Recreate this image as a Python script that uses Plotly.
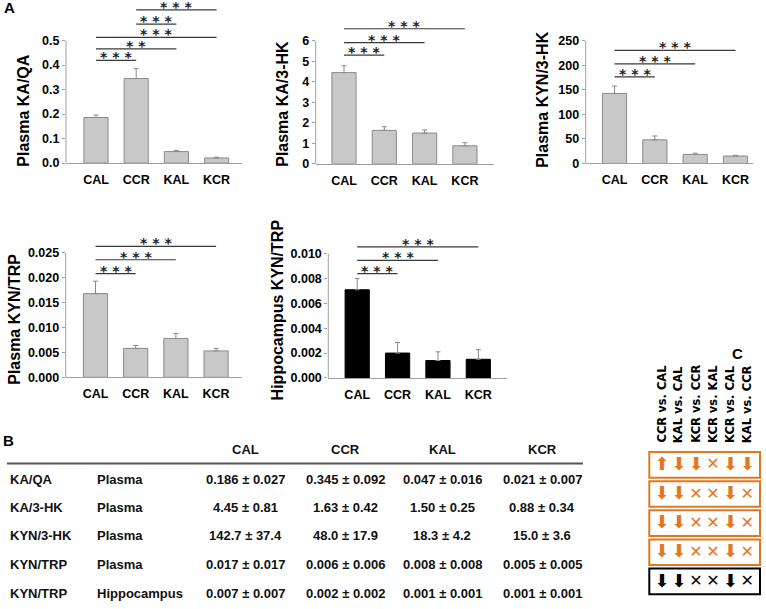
import plotly.graph_objects as go

W, H = 766, 609

# ---------------- data ----------------
groups = ["CAL", "CCR", "KAL", "KCR"]

ka_qa_mean = [0.186, 0.345, 0.047, 0.021]
ka_qa_sem = [0.010, 0.040, 0.005, 0.003]
ka_3hk_mean = [4.45, 1.63, 1.50, 0.88]
ka_3hk_sem = [0.33, 0.18, 0.15, 0.15]
kyn_3hk_mean = [142.7, 48.0, 18.3, 15.0]
kyn_3hk_sem = [15.0, 8.0, 2.5, 1.5]
kyn_trp_plasma_mean = [0.0168, 0.0058, 0.0078, 0.0053]
kyn_trp_plasma_sem = [0.0025, 0.0006, 0.0010, 0.0005]
kyn_trp_hippo_mean = [0.0071, 0.0020, 0.0014, 0.0015]
kyn_trp_hippo_sem = [0.0009, 0.00085, 0.0007, 0.00077]

# significance brackets: (group a, group b, label, height in data units)
sig_ka_qa = [("CAL", "CCR", "***", 0.419), ("CAL", "KAL", "**", 0.466),
             ("CAL", "KCR", "***", 0.513), ("CCR", "KAL", "***", 0.567),
             ("CCR", "KCR", "***", 0.625)]
sig_ka_3hk = [("CAL", "CCR", "***", 5.3), ("CAL", "KAL", "***", 5.91),
              ("CAL", "KCR", "***", 6.59)]
sig_kyn_3hk = [("CAL", "CCR", "***", 176.6), ("CAL", "KAL", "***", 202.8),
               ("CAL", "KCR", "***", 230.4)]
sig_kyn_trp_plasma = [("CAL", "CCR", "***", 0.0208), ("CAL", "KAL", "***", 0.0236),
                      ("CAL", "KCR", "***", 0.0263)]
sig_kyn_trp_hippo = [("CAL", "CCR", "***", 0.0084), ("CAL", "KAL", "***", 0.00947),
                     ("CAL", "KCR", "***", 0.01056)]

# table B
table_ratio = ["KA/QA", "KA/3-HK", "KYN/3-HK", "KYN/TRP", "KYN/TRP"]
table_tissue = ["Plasma", "Plasma", "Plasma", "Plasma", "Hippocampus"]
table_cal = ["0.186 ± 0.027", "4.45 ± 0.81", "142.7 ± 37.4", "0.017 ± 0.017", "0.007 ± 0.007"]
table_ccr = ["0.345 ± 0.092", "1.63 ± 0.42", "48.0 ± 17.9", "0.006 ± 0.006", "0.002 ± 0.002"]
table_kal = ["0.047 ± 0.016", "1.50 ± 0.25", "18.3 ± 4.2", "0.008 ± 0.008", "0.001 ± 0.001"]
table_kcr = ["0.021 ± 0.007", "0.88 ± 0.34", "15.0 ± 3.6", "0.005 ± 0.005", "0.001 ± 0.001"]

# panel C
c_comparisons = ["CCR vs. CAL", "KAL vs. CAL", "KCR vs. CCR", "KCR vs. KAL", "KCR vs. CAL", "KAL vs. CCR"]
c_rows = [
    ["up", "down", "down", "ns", "down", "down"],
    ["down", "down", "ns", "ns", "down", "ns"],
    ["down", "down", "ns", "ns", "down", "ns"],
    ["down", "down", "ns", "ns", "down", "ns"],
    ["down", "down", "ns", "ns", "down", "ns"],
]
c_row_tissue = ["Plasma", "Plasma", "Plasma", "Plasma", "Hippocampus"]

# ---------------- styling ----------------
FONT = "Liberation Sans, Arial, sans-serif"
ORANGE = "#E1781F"
AXIS_C = "#a0a0a0"
BAR_FILL = "#c8c8c8"
BAR_LINE = "#8a8a8a"
SIG_C = "#3a3a3a"


def px(xp):
    return xp / W


def py(yp):
    return 1 - yp / H


fig = go.Figure()
layout = dict(width=W, height=H, margin=dict(l=0, r=0, t=0, b=0),
              paper_bgcolor="white", plot_bgcolor="white", showlegend=False,
              font=dict(family=FONT, color="black"))
shapes = []
annotations = []

panels = [
    dict(mean=ka_qa_mean, sem=ka_qa_sem, sig=sig_ka_qa, fill=BAR_FILL, line=BAR_LINE,
         ticks=[0, 0.1, 0.2, 0.3, 0.4, 0.5], fmt=".1f", title="Plasma KA/QA",
         ax0=66, c0=96, sp=40.2, ax1=242, y0=165, scale=248.0, top=1,
         tx=24, ty=112),
    dict(mean=ka_3hk_mean, sem=ka_3hk_sem, sig=sig_ka_3hk, fill=BAR_FILL, line=BAR_LINE,
         ticks=[0, 1, 2, 3, 4, 5, 6], fmt="d", title="Plasma KA/3-HK",
         ax0=315.7, c0=344, sp=40.3, ax1=494, y0=165.7, scale=20.73, top=5,
         tx=283, ty=105),
    dict(mean=kyn_3hk_mean, sem=kyn_3hk_sem, sig=sig_kyn_3hk, fill=BAR_FILL, line=BAR_LINE,
         ticks=[0, 50, 100, 150, 200, 250], fmt="d", title="Plasma KYN/3-HK",
         ax0=585.7, c0=614.5, sp=40.33, ax1=753, y0=165.3, scale=0.496, top=25,
         tx=543, ty=101),
    dict(mean=kyn_trp_plasma_mean, sem=kyn_trp_plasma_sem, sig=sig_kyn_trp_plasma,
         fill=BAR_FILL, line=BAR_LINE,
         ticks=[0, 0.005, 0.010, 0.015, 0.020, 0.025], fmt=".3f", title="Plasma KYN/TRP",
         ax0=65.7, c0=95.5, sp=40.2, ax1=242, y0=381.7, scale=5040.0, top=232,
         tx=14.5, ty=323),
    dict(mean=kyn_trp_hippo_mean, sem=kyn_trp_hippo_sem, sig=sig_kyn_trp_hippo,
         fill="black", line="black",
         ticks=[0, 0.002, 0.004, 0.006, 0.008, 0.010], fmt=".3f", title="Hippocampus KYN/TRP",
         ax0=328.3, c0=357.2, sp=40.37, ax1=506.7, y0=382.3, scale=12560.0, top=232,
         tx=277, ty=314),
]

for i, p in enumerate(panels, start=1):
    xa = "x" if i == 1 else f"x{i}"
    ya = "y" if i == 1 else f"y{i}"
    fig.add_trace(go.Bar(
        x=groups, y=p["mean"], xaxis=xa, yaxis=ya, width=0.6,
        marker=dict(color=p["fill"], line=dict(color=p["line"], width=1)),
        error_y=dict(type="data", array=p["sem"], arrayminus=[0] * len(p["sem"]),
                     symmetric=False, color="#8a8a8a", thickness=1, width=2.5),
        hoverinfo="skip"))
    xr = [(p["ax0"] - p["c0"]) / p["sp"], (p["ax1"] - p["c0"]) / p["sp"]]
    ytop = (p["y0"] - p["top"]) / p["scale"]
    xkey = "xaxis" if i == 1 else f"xaxis{i}"
    ykey = "yaxis" if i == 1 else f"yaxis{i}"
    layout[xkey] = dict(domain=[px(p["ax0"]), px(p["ax1"])], anchor=ya, range=xr,
                        type="category", categoryorder="array", categoryarray=groups,
                        showline=True, linecolor=AXIS_C, linewidth=1, ticks="",
                        ticklabelstandoff=5,
                        showgrid=False, zeroline=False, fixedrange=True,
                        tickfont=dict(family=FONT, size=12.5, color="black", weight="bold"))
    layout[ykey] = dict(domain=[py(p["y0"]), py(p["top"])], anchor=xa, range=[0, ytop],
                        showline=False, showgrid=False, zeroline=False,
                        tickmode="array", tickvals=p["ticks"],
                        ticktext=[format(t, p["fmt"]) if p["fmt"] != "d" else str(int(t)) for t in p["ticks"]],
                        ticks="outside", ticklen=3, tickcolor=AXIS_C, tickwidth=1,
                        fixedrange=True,
                        tickfont=dict(family=FONT, size=12.5, color="black", weight="bold"))
    shapes.append(dict(type="line", xref="paper", yref="paper",
                       x0=px(p["ax0"]), x1=px(p["ax0"]),
                       y0=py(p["y0"]), y1=py(p["y0"] - p["ticks"][-1] * p["scale"]),
                       line=dict(color=AXIS_C, width=1)))
    for a, b, lab, lev in p["sig"]:
        ia, ib = groups.index(a), groups.index(b)
        shapes.append(dict(type="line", xref=xa, yref=ya, x0=ia, x1=ib, y0=lev, y1=lev,
                           line=dict(color=SIG_C, width=1.2)))
        annotations.append(dict(xref=xa, yref=ya, x=(ia + ib) / 2, y=lev,
                                text=" ".join(lab), showarrow=False, yanchor="bottom",
                                yshift=-7,
                                font=dict(family="DejaVu Sans", size=14, color="#222", weight="bold")))
    annotations.append(dict(xref="paper", yref="paper", x=px(p["tx"]), y=py(p["ty"]),
                            text=p["title"], textangle=-90, showarrow=False,
                            xanchor="center", yanchor="middle",
                            font=dict(family=FONT, size=16, color="black", weight="bold")))

for lab, xx, yy in [("A", 2, 8), ("B", 1, 446)]:
    annotations.append(dict(xref="paper", yref="paper", x=px(xx), y=py(yy), text=lab,
                            showarrow=False, xanchor="left", yanchor="middle",
                            font=dict(family=FONT, size=15, color="black", weight="bold")))
annotations.append(dict(xref="paper", yref="paper", x=px(737), y=py(358), text="C",
                        showarrow=False, xanchor="center", yanchor="middle",
                        font=dict(family=FONT, size=15, color="black", weight="bold")))

# ---------------- table B ----------------
tfont = dict(family=FONT, size=13, color="#111", weight="bold")
col_x = [245, 345, 442, 542]
header_y = 455
row_y = [485, 513.3, 541.7, 571, 600]
for g, cx in zip(groups, col_x):
    annotations.append(dict(xref="paper", yref="paper", x=px(cx), y=py(header_y), text=g,
                            showarrow=False, xanchor="center", yanchor="middle", font=tfont))
shapes.append(dict(type="line", xref="paper", yref="paper", x0=px(7), x1=px(583),
                   y0=py(469), y1=py(469), line=dict(color="#555", width=2)))
for r in range(len(table_ratio)):
    yy = py(row_y[r])
    annotations.append(dict(xref="paper", yref="paper", x=px(8), y=yy, text=table_ratio[r],
                            showarrow=False, xanchor="left", yanchor="middle", font=tfont))
    annotations.append(dict(xref="paper", yref="paper", x=px(95), y=yy, text=table_tissue[r],
                            showarrow=False, xanchor="left", yanchor="middle", font=tfont))
    for col, cx in zip([table_cal, table_ccr, table_kal, table_kcr], col_x):
        annotations.append(dict(xref="paper", yref="paper", x=px(cx), y=yy, text=col[r],
                                showarrow=False, xanchor="center", yanchor="middle", font=tfont))

# ---------------- panel C ----------------
c_x0, c_sp = 661.7, 17.12
r_y0, r_sp = 470.8, 29.5
glyph = {"up": "⬆", "down": "⬇", "ns": "✕"}
xs, ys, txt, cols, sizes = [], [], [], [], []
for r, row in enumerate(c_rows):
    color = "black" if c_row_tissue[r] == "Hippocampus" else ORANGE
    for c, v in enumerate(row):
        xs.append(c)
        ys.append(r)
        txt.append(glyph[v])
        cols.append(color)
        sizes.append(18 if v != "ns" else 16)
fig.add_trace(go.Scatter(x=xs, y=ys, mode="text", text=txt, xaxis="x6", yaxis="y6",
                         textfont=dict(family="DejaVu Sans", color=cols, size=sizes),
                         cliponaxis=False, hoverinfo="skip"))
layout["xaxis6"] = dict(domain=[px(645), px(764)], anchor="y6",
                        range=[(645 - c_x0) / c_sp, (764 - c_x0) / c_sp],
                        visible=False, fixedrange=True)
layout["yaxis6"] = dict(domain=[py(606), py(453)], anchor="x6",
                        range=[(606 - r_y0) / r_sp, (453 - r_y0) / r_sp],
                        visible=False, fixedrange=True)
for r in range(len(c_rows)):
    color = "black" if c_row_tissue[r] == "Hippocampus" else ORANGE
    shapes.append(dict(type="rect", xref="x6", yref="y6",
                       x0=(649.3 - c_x0) / c_sp, x1=(760 - c_x0) / c_sp,
                       y0=r - 0.46, y1=r + 0.42, line=dict(color=color, width=2)))
for c, lab in enumerate(c_comparisons):
    annotations.append(dict(xref="x6", yref="paper", x=c, y=py(450), text=lab,
                            textangle=-90, showarrow=False, xanchor="center", yanchor="bottom",
                            font=dict(family="DejaVu Sans", size=11.5, color="black", weight="bold")))

layout["shapes"] = shapes
layout["annotations"] = annotations
fig.update_layout(**layout)
fig.write_html("out.html", config={"displayModeBar": False},
               post_script="document.body.style.margin='0';document.body.style.overflow='hidden';")
